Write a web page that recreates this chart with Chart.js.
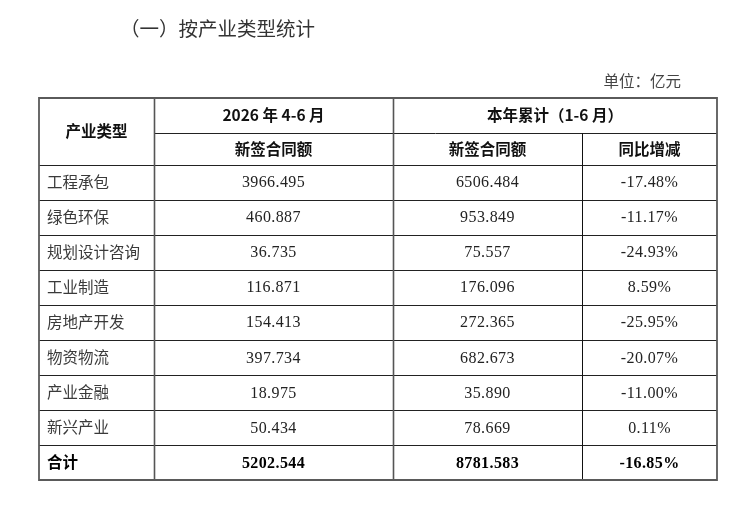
<!DOCTYPE html>
<html>
<head>
<meta charset="utf-8">
<script src="https://cdn.jsdelivr.net/npm/chart.js@4.4.1/dist/chart.umd.min.js"></script>
<style>
html,body{margin:0;padding:0;background:#fff;}
#wrap{width:750px;height:526px;}
</style>
</head>
<body>
<div id="wrap"><canvas id="c" width="750" height="526"></canvas></div>
<script>
// ---- data ----
const titleText = '（一）按产业类型统计';
const unitText = '单位：亿元';
const categories = ['工程承包','绿色环保','规划设计咨询','工业制造','房地产开发','物资物流','产业金融','新兴产业'];
const q2Values = [3966.495, 460.887, 36.735, 116.871, 154.413, 397.734, 18.975, 50.434];
const ytdValues = [6506.484, 953.849, 75.557, 176.096, 272.365, 682.673, 35.890, 78.669];
const yoyValues = [-17.48, -11.17, -24.93, 8.59, -25.95, -20.07, -11.00, 0.11];
const totalLabel = '合计';
const q2Total = 5202.544;
const ytdTotal = 8781.583;
const yoyTotal = -16.85;
const headerTop = ['产业类型', '2026 年 4-6 月', '本年累计（1-6 月）'];
const headerSub = ['新签合同额', '新签合同额', '同比增减'];

// ---- layout config (scale units) ----
const colEdges = [0, 115, 354, 543, 678];
const rowEdges = [0, 1, 1.9];
for (let i = 0; i <= categories.length; i++) rowEdges.push(2.9 + i);
const yMax = rowEdges[rowEdges.length - 1];

const CJK = '"Noto Sans CJK SC", "Noto Sans", sans-serif';
const NUM = '"Liberation Serif", "DejaVu Serif", serif';

const tablePlugin = {
  id: 'tablePlugin',
  afterDraw(chart) {
    const ctx = chart.ctx;
    const xs = chart.scales.x, ys = chart.scales.y;
    const X = v => xs.getPixelForValue(v);
    const Y = v => ys.getPixelForValue(v);
    const cx = (a, b) => (X(colEdges[a]) + X(colEdges[b])) / 2;
    const cy = (a, b) => (Y(rowEdges[a]) + Y(rowEdges[b])) / 2;
    ctx.save();

    // title & unit
    ctx.fillStyle = '#333';
    ctx.textBaseline = 'middle';
    ctx.font = '400 19.5px ' + CJK;
    ctx.textAlign = 'left';
    ctx.fillText(titleText, 120, 29);
    ctx.font = '400 15.5px ' + CJK;
    ctx.textAlign = 'right';
    ctx.fillStyle = '#444';
    ctx.fillText(unitText, 681, 81);

    // lines
    function hline(r, c0, c1, color, w) {
      ctx.beginPath();
      ctx.strokeStyle = color; ctx.lineWidth = w;
      const y = Math.round(Y(rowEdges[r])) + 0.5;
      ctx.moveTo(X(colEdges[c0]), y); ctx.lineTo(X(colEdges[c1]), y); ctx.stroke();
    }
    function vline(c, r0, r1, color, w) {
      ctx.beginPath();
      ctx.strokeStyle = color; ctx.lineWidth = w;
      const x = Math.round(X(colEdges[c])) + 0.5;
      ctx.moveTo(x, Y(rowEdges[r0])); ctx.lineTo(x, Y(rowEdges[r1])); ctx.stroke();
    }
    const nRows = rowEdges.length - 1;
    hline(1, 1, 4, '#222', 1);
    for (let r = 2; r < nRows; r++) hline(r, 0, 4, '#222', 1);
    vline(1, 0, nRows, '#555', 1.6);
    vline(2, 0, nRows, '#555', 1.6);
    vline(3, 1, nRows, '#111', 1);
    // outer border
    ctx.beginPath();
    ctx.strokeStyle = '#5a5a5a'; ctx.lineWidth = 1.8;
    ctx.rect(X(colEdges[0]), Y(rowEdges[0]), X(colEdges[4]) - X(colEdges[0]), Y(rowEdges[nRows]) - Y(rowEdges[0]));
    ctx.stroke();

    // header text
    ctx.fillStyle = '#111';
    ctx.textAlign = 'center';
    ctx.font = '700 15.5px ' + CJK;
    ctx.fillText(headerTop[0], cx(0, 1), cy(0, 2));
    ctx.fillText(headerTop[1], cx(1, 2), cy(0, 1));
    ctx.fillText(headerTop[2], cx(2, 4), cy(0, 1));
    for (let c = 0; c < 3; c++) ctx.fillText(headerSub[c], cx(c + 1, c + 2), cy(1, 2));

    // data rows
    if ('letterSpacing' in ctx) ctx.letterSpacing = '0px';
    categories.forEach((name, i) => {
      const r = i + 2;
      const y = cy(r, r + 1);
      ctx.textAlign = 'left';
      ctx.fillStyle = '#3a3a3a';
      ctx.font = '400 15.5px ' + CJK;
      if ('letterSpacing' in ctx) ctx.letterSpacing = '0px';
      ctx.fillText(name, X(colEdges[0]) + 8, y);
      ctx.textAlign = 'center';
      ctx.fillStyle = '#222';
      ctx.font = '400 16px ' + NUM;
      if ('letterSpacing' in ctx) ctx.letterSpacing = '0.4px';
      ctx.fillText(q2Values[i].toFixed(3), cx(1, 2), y + 1);
      ctx.fillText(ytdValues[i].toFixed(3), cx(2, 3), y + 1);
      ctx.fillText(yoyValues[i].toFixed(2) + '%', cx(3, 4), y + 1);
    });

    // total row
    const rt = nRows - 1;
    const yt = cy(rt, rt + 1);
    ctx.fillStyle = '#000';
    ctx.textAlign = 'left';
    ctx.font = '700 15.5px ' + CJK;
    if ('letterSpacing' in ctx) ctx.letterSpacing = '0px';
    ctx.fillText(totalLabel, X(colEdges[0]) + 8, yt);
    ctx.textAlign = 'center';
    ctx.font = '700 16px ' + NUM;
    if ('letterSpacing' in ctx) ctx.letterSpacing = '0.4px';
    ctx.fillText(q2Total.toFixed(3), cx(1, 2), yt + 1);
    ctx.fillText(ytdTotal.toFixed(3), cx(2, 3), yt + 1);
    ctx.fillText(yoyTotal.toFixed(2) + '%', cx(3, 4), yt + 1);
    ctx.restore();
  }
};

new Chart(document.getElementById('c'), {
  type: 'scatter',
  data: { datasets: [{ data: [], showLine: false }] },
  options: {
    responsive: false,
    animation: false,
    devicePixelRatio: 1,
    layout: { padding: { left: 39, top: 98, right: 33, bottom: 46 } },
    plugins: { legend: { display: false }, tooltip: { enabled: false }, title: { display: false } },
    scales: {
      x: { type: 'linear', min: colEdges[0], max: colEdges[colEdges.length - 1], display: false },
      y: { type: 'linear', min: 0, max: yMax, reverse: true, display: false }
    }
  },
  plugins: [tablePlugin]
});
</script>
</body>
</html>
